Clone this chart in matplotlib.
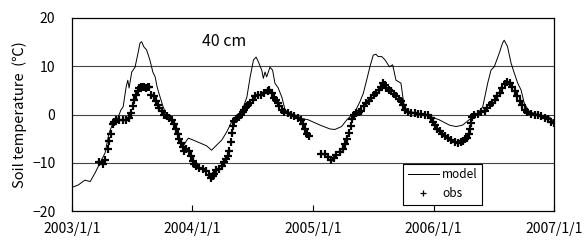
import pandas as pd
import matplotlib
matplotlib.use("Agg")
import matplotlib.pyplot as plt

plt.rcParams['font.family'] = ['Noto Sans CJK JP', 'DejaVu Sans']

# days since 2003/1/1 and soil temperature (C)
model_days = [0, 19, 39, 55, 70, 85, 100, 112, 124, 139, 148, 155, 164, 169, 173, 181,
              191, 200, 206, 211, 218, 226, 236, 245, 252, 258, 267, 276, 287, 302, 317,
              327, 336, 348, 353, 367, 388, 408, 423, 439, 454, 469, 484, 499, 514, 530,
              540, 550, 558, 565, 575, 580, 585, 590, 600, 608, 615, 625, 636, 646, 661,
              676, 696, 716, 752, 782, 797, 817, 833, 848, 858, 873, 883, 893, 903, 913,
              921, 928, 939, 949, 962, 972, 982, 997, 1007, 1022, 1073, 1113, 1144, 1164,
              1184, 1209, 1230, 1245, 1260, 1270, 1280, 1295, 1305, 1310, 1320, 1331,
              1341, 1351, 1361, 1371, 1386, 1416, 1447, 1461]
model_temp = [-15.1, -14.6, -13.6, -13.9, -12.1, -10.0, -8.0, -3.9, -1.8, -0.7, 0.9, 1.6,
              5.7, 7.1, 5.5, 8.8, 9.8, 12.7, 14.8, 15.1, 14.0, 13.4, 11.3, 8.8, 7.8, 5.7,
              3.6, 1.6, -0.1, -0.5, -2.6, -5.3, -6.7, -5.3, -4.9, -5.3, -5.9, -6.5, -7.4,
              -6.3, -5.3, -3.6, -1.5, -0.1, 0.5, 3.6, 7.8, 11.3, 11.9, 10.9, 9.2, 7.5, 8.8,
              7.8, 9.8, 9.2, 6.5, 5.5, 3.6, 0.9, 0.3, -0.1, -0.8, -1.1, -2.2, -3.0, -3.1,
              -2.5, -1.1, -0.1, 0.6, 2.7, 4.4, 7.1, 9.9, 12.3, 12.5, 12.0, 12.0, 11.3, 9.9,
              10.3, 7.1, 6.5, 1.6, 0.6, -0.1, -1.1, -2.2, -2.5, -2.2, -0.8, 0.2, 1.6, 6.5,
              9.2, 9.9, 12.7, 14.8, 15.4, 14.1, 10.6, 8.5, 6.5, 5.1, 2.3, 0.6, -0.1, -0.5,
              -1.5]

# observations, 2003-2004 record
obs_days_1 = [83, 93, 101, 108, 113, 118, 123, 128, 133, 143, 154, 164, 174, 179, 184, 189,
              194, 199, 204, 209, 214, 219, 224, 229, 234, 239, 247, 255, 260, 265, 273,
              280, 287, 295, 303, 310, 315, 320, 325, 330, 335, 340, 346, 354, 361, 366,
              371, 376, 386, 396, 406, 416, 421, 426, 431, 436, 447, 455, 462, 467, 472,
              477, 482, 485, 487, 490, 497, 505, 512, 517, 522, 527, 532, 540, 548, 556,
              563, 573, 583, 593, 598, 606, 613, 618, 623, 628, 637, 644, 654, 664, 674,
              684, 694, 701, 707, 712, 717]
obs_temp_1 = [-9.9, -10.2, -9.4, -7.2, -5.5, -4.1, -2.0, -1.5, -1.2, -1.2, -1.2, -1.2, -0.7,
              0.3, 1.7, 3.1, 4.1, 4.8, 5.5, 5.8, 5.6, 5.8, 5.5, 5.8, 5.6, 4.1, 3.8, 2.7,
              2.0, 1.4, 0.7, 0.0, -0.3, -0.7, -1.2, -2.0, -3.1, -4.1, -5.1, -6.0, -6.8,
              -7.5, -7.2, -7.5, -8.5, -9.6, -10.2, -10.6, -11.1, -11.3, -11.8, -12.6, -13.1,
              -12.8, -12.3, -11.6, -11.3, -10.6, -9.9, -9.2, -8.5, -7.5, -5.8, -3.8, -2.4,
              -1.4, -1.0, -0.5, 0.0, 0.5, 1.0, 1.5, 2.0, 2.4, 3.1, 3.8, 4.0, 4.1, 4.4, 4.8,
              5.1, 4.4, 3.4, 3.1, 2.4, 1.7, 1.0, 0.5, 0.3, 0.0, -0.3, -0.7, -1.2, -2.0,
              -3.1, -4.1, -4.4]

# observations, 2005-2006 record
obs_days_2 = [756, 766, 776, 786, 794, 801, 811, 821, 828, 835, 840, 845, 849, 855, 862,
              869, 877, 885, 892, 899, 907, 915, 922, 930, 938, 943, 948, 953, 960, 968,
              976, 983, 990, 998, 1004, 1010, 1018, 1029, 1039, 1049, 1059, 1069, 1079,
              1087, 1094, 1099, 1106, 1114, 1121, 1130, 1140, 1150, 1160, 1170, 1178,
              1185, 1192, 1198, 1202, 1205, 1208, 1212, 1220, 1231, 1241, 1251, 1259,
              1266, 1273, 1281, 1289, 1296, 1303, 1311, 1320, 1327, 1334, 1342, 1350,
              1357, 1364, 1372, 1380, 1390, 1402, 1412, 1423, 1433, 1443, 1453, 1461]
obs_temp_2 = [-8.2, -8.1, -8.9, -9.4, -9.0, -8.3, -7.8, -7.2, -6.1, -5.1, -3.8, -2.4, -1.0,
              0.0, 0.3, 0.5, 0.8, 1.7, 2.4, 2.9, 3.4, 4.1, 4.4, 5.1, 5.8, 6.5, 6.1, 5.5,
              5.1, 4.8, 4.2, 3.8, 3.3, 2.7, 1.9, 1.0, 0.5, 0.3, 0.3, 0.2, 0.1, 0.0, -0.2,
              -0.7, -1.5, -2.2, -3.1, -3.5, -4.0, -4.4, -4.9, -5.3, -5.6, -6.0, -5.8, -5.5,
              -5.1, -4.8, -4.1, -3.1, -1.7, -0.5, 0.0, 0.2, 0.5, 0.8, 1.4, 1.9, 2.4, 3.1,
              3.8, 4.4, 5.5, 6.3, 6.8, 6.5, 5.8, 4.8, 3.8, 2.9, 2.0, 1.0, 0.5, 0.2, 0.0,
              -0.1, -0.3, -0.7, -1.0, -1.5, -1.7]

x_ticks = ['2003-01-01', '2004-01-01', '2005-01-01', '2006-01-01', '2007-01-01']
x_labels = ['2003/1/1', '2004/1/1', '2005/1/1', '2006/1/1', '2007/1/1']
y_ticks = [-20, -10, 0, 10, 20]
y_labels = ['\u221220', '\u221210', '0', '10', '20']

start = pd.Timestamp('2003-01-01')
model_x = start + pd.to_timedelta(model_days, unit='D')
obs_x = start + pd.to_timedelta(obs_days_1 + obs_days_2, unit='D')
obs_y = obs_temp_1 + obs_temp_2

fig = plt.figure(figsize=(5.86, 2.40), dpi=100)
ax = fig.add_axes([0.1229, 0.1208, 0.8225, 0.8042])

for y in [-10, 0, 10]:
    ax.axhline(y, color='#444444', lw=0.8, zorder=0)

ax.plot(model_x, model_temp, color='black', lw=0.7, label='model')
ax.plot(obs_x, obs_y, ls='none', marker='+', ms=6, mew=1.6, color='black', label='obs')

ax.set_xlim(pd.Timestamp(x_ticks[0]), pd.Timestamp(x_ticks[-1]))
ax.set_ylim(-20, 20)
ax.set_xticks([pd.Timestamp(t) for t in x_ticks])
ax.set_xticklabels(x_labels, fontsize=10)
ax.set_yticks(y_ticks)
ax.set_yticklabels(y_labels, fontsize=10)
ax.tick_params(axis='x', direction='in', length=4, width=0.8, pad=8)
ax.tick_params(axis='y', length=0, pad=12)
for s in ax.spines.values():
    s.set_linewidth(0.9)

ax.set_ylabel('Soil temperature  (\u2103)', fontsize=10.5, labelpad=4)
ax.text(0.315, 0.876, '40 cm', transform=ax.transAxes, ha='center', va='center', fontsize=11.5)

leg = ax.legend(loc='lower left', bbox_to_anchor=(0.687, 0.031), fontsize=8.5,
                frameon=True, fancybox=False, edgecolor='black', framealpha=1,
                handlelength=2.6, borderpad=0.4, labelspacing=0.5, handletextpad=0.3,
                borderaxespad=0, markerscale=0.7)
leg.get_frame().set_linewidth(0.8)
leg.legend_handles[1].set_markeredgewidth(0.9)

fig.savefig('out.png', dpi=100)
